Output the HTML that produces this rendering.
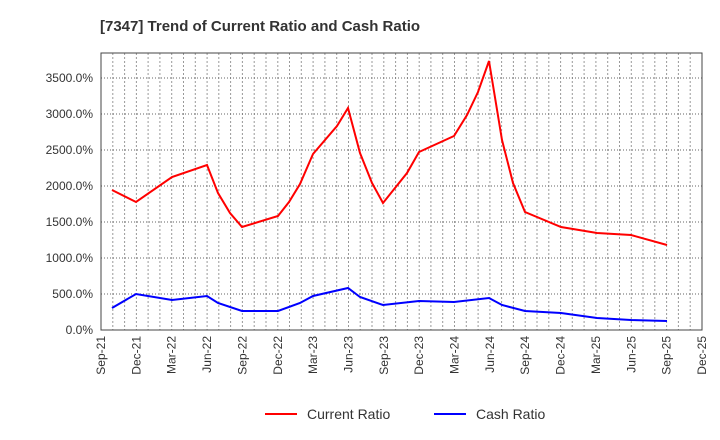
<!DOCTYPE html><html><head><style>body{margin:0;background:#fff}svg{display:block;font-family:"Liberation Sans",sans-serif}</style></head><body>
<svg width="720" height="440" xmlns="http://www.w3.org/2000/svg">
<text x="100" y="31" font-size="15" font-weight="bold" fill="#333">[7347]  Trend of Current Ratio and Cash Ratio</text>
<path fill="none" stroke="#999" stroke-width="1" stroke-dasharray="2,2" d="M112.8 53V330M124.6 53V330M136.4 53V330M148.1 53V330M159.9 53V330M171.7 53V330M183.5 53V330M195.3 53V330M207.1 53V330M218.8 53V330M230.6 53V330M242.4 53V330M254.2 53V330M266 53V330M277.8 53V330M289.5 53V330M301.3 53V330M313.1 53V330M324.9 53V330M336.7 53V330M348.5 53V330M360.2 53V330M372 53V330M383.8 53V330M395.6 53V330M407.4 53V330M419.2 53V330M430.9 53V330M442.7 53V330M454.5 53V330M466.3 53V330M478.1 53V330M489.9 53V330M501.6 53V330M513.4 53V330M525.2 53V330M537 53V330M548.8 53V330M560.6 53V330M572.3 53V330M584.1 53V330M595.9 53V330M607.7 53V330M619.5 53V330M631.3 53V330M643 53V330M654.8 53V330M666.6 53V330M678.4 53V330M690.2 53V330"/>
<path fill="none" stroke="#666" stroke-width="1" stroke-dasharray="1,2" d="M101 294H702M101 258H702M101 222H702M101 186H702M101 150H702M101 114H702M101 78H702"/>
<g font-size="12" fill="#333" text-anchor="end">
<text x="93" y="334">0.0%</text><text x="93" y="298">500.0%</text><text x="93" y="262">1000.0%</text><text x="93" y="226">1500.0%</text><text x="93" y="190">2000.0%</text><text x="93" y="154">2500.0%</text><text x="93" y="118">3000.0%</text><text x="93" y="82">3500.0%</text>
</g>
<g font-size="12" fill="#333" text-anchor="end">
<text transform="translate(105,336) rotate(-90)">Sep-21</text>
<text transform="translate(140.4,336) rotate(-90)">Dec-21</text>
<text transform="translate(175.7,336) rotate(-90)">Mar-22</text>
<text transform="translate(211.1,336) rotate(-90)">Jun-22</text>
<text transform="translate(246.4,336) rotate(-90)">Sep-22</text>
<text transform="translate(281.8,336) rotate(-90)">Dec-22</text>
<text transform="translate(317.1,336) rotate(-90)">Mar-23</text>
<text transform="translate(352.5,336) rotate(-90)">Jun-23</text>
<text transform="translate(387.8,336) rotate(-90)">Sep-23</text>
<text transform="translate(423.2,336) rotate(-90)">Dec-23</text>
<text transform="translate(458.5,336) rotate(-90)">Mar-24</text>
<text transform="translate(493.9,336) rotate(-90)">Jun-24</text>
<text transform="translate(529.2,336) rotate(-90)">Sep-24</text>
<text transform="translate(564.6,336) rotate(-90)">Dec-24</text>
<text transform="translate(599.9,336) rotate(-90)">Mar-25</text>
<text transform="translate(635.3,336) rotate(-90)">Jun-25</text>
<text transform="translate(670.6,336) rotate(-90)">Sep-25</text>
<text transform="translate(706,336) rotate(-90)">Dec-25</text>
</g>
<polyline fill="none" stroke="#f00" stroke-width="2" points="112,190 136,202 172,177 207,165 218,193 230,213 242,227 278,216 289,202 300,184 313,154 337,126 348,108 360,153 372,183 383,203 395,188 407,173 419,152 454,136 467,115 478,92 489,61 502,140 513,183 525,212 561,227 597,233 631,235 667,245"/>
<polyline fill="none" stroke="#00f" stroke-width="2" points="112,308 136,294 172,300 207,296 218,303 242,311 278,311 300,303 313,296 348,288 360,297 383,305 419,301 454,302 489,298 502,305 525,311 561,313 597,318 631,320 667,321"/>
<rect x="101" y="53" width="601" height="277" fill="none" stroke="#444" stroke-width="1"/>
<line x1="265" y1="414" x2="297" y2="414" stroke="#f00" stroke-width="2"/><text x="307" y="419" font-size="14" fill="#333">Current Ratio</text>
<line x1="434" y1="414" x2="466" y2="414" stroke="#00f" stroke-width="2"/><text x="476" y="419" font-size="14" fill="#333">Cash Ratio</text>
</svg></body></html>
